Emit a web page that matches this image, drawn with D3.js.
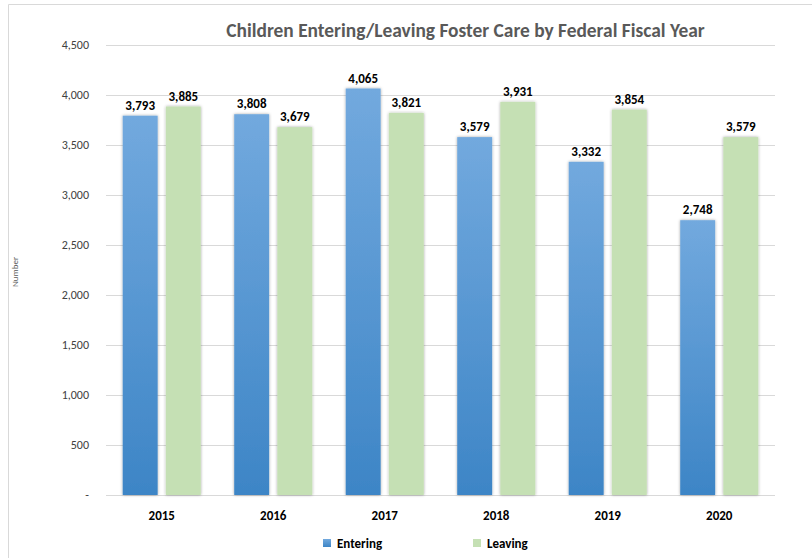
<!DOCTYPE html>
<html><head><meta charset="utf-8">
<script src="https://cdn.jsdelivr.net/npm/d3@7"></script>
<style>
body{margin:0;background:#fff;}
text{font-family:Carlito,"Lato","Open Sans",sans-serif;}
</style></head>
<body><svg id="c" width="812" height="558"></svg>
<script>
const years = ["2015","2016","2017","2018","2019","2020"];
const seriesNames = ["Entering","Leaving"];
const entering = [3793,3808,4065,3579,3332,2748];
const leaving = [3885,3679,3821,3931,3854,3579];
const yTicks = [0,500,1000,1500,2000,2500,3000,3500,4000,4500];

(function(){
const FF = "Carlito,Lato,'Open Sans',sans-serif";
const svg = d3.select("#c");
const defs = svg.append("defs");
const g1 = defs.append("linearGradient").attr("id","gEnt").attr("x1",0).attr("y1",0).attr("x2",0).attr("y2",1);
g1.append("stop").attr("offset","0%").attr("stop-color","#72a9de");
g1.append("stop").attr("offset","100%").attr("stop-color","#3d85c6");
const f = defs.append("filter").attr("id","sh").attr("x","-30%").attr("y","-10%").attr("width","160%").attr("height","120%");
f.append("feDropShadow").attr("dx",0).attr("dy",0).attr("stdDeviation",1.5).attr("flood-color","#000").attr("flood-opacity",0.35);

svg.append("line").attr("x1",8.5).attr("x2",812).attr("y1",4.5).attr("y2",4.5).attr("stroke","#d9d9d9");
svg.append("line").attr("x1",8.5).attr("x2",8.5).attr("y1",4.5).attr("y2",558).attr("stroke","#d9d9d9");

const pL=106, pR=775, pT=45, pB=495;
const y = d3.scaleLinear().domain([0,4500]).range([pB,pT]);
const x0 = d3.scaleBand().domain(years).range([pL,pR]).paddingInner(0.30).paddingOuter(0.15);
const x1 = d3.scaleBand().domain(seriesNames).range([0,x0.bandwidth()]).paddingInner(0.19);

const grid = svg.append("g").attr("transform",`translate(${pL},0)`)
  .call(d3.axisLeft(y).tickValues(yTicks).tickSize(-(pR-pL)).tickFormat(""));
grid.select(".domain").remove();
grid.selectAll("line").attr("stroke","#d9d9d9");

const ya = svg.append("g").attr("transform",`translate(${pL-14},0)`)
  .call(d3.axisLeft(y).tickValues(yTicks).tickSize(0).tickFormat(d=> d===0?"-":d3.format(",")(d)));
ya.select(".domain").remove();
ya.selectAll("text").attr("font-size",12).attr("fill","#404040").style("font-family",FF);

const data = years.map((yr,i)=>({yr, vals:[{k:"Entering",v:entering[i]},{k:"Leaving",v:leaving[i]}]}));
const grp = svg.append("g").selectAll("g").data(data).join("g").attr("transform",d=>`translate(${x0(d.yr)},0)`);
grp.selectAll("rect").data(d=>d.vals).join("rect")
  .attr("x",d=>x1(d.k)).attr("width",x1.bandwidth())
  .attr("y",d=>y(d.v)).attr("height",d=>y(0)-y(d.v))
  .attr("fill",d=>d.k==="Entering"?"url(#gEnt)":"#c5e0b4")
  .attr("filter","url(#sh)");
grp.selectAll("text.v").data(d=>d.vals).join("text").attr("class","v")
  .attr("x",d=>x1(d.k)+x1.bandwidth()/2).attr("y",d=>y(d.v)-6)
  .attr("text-anchor","middle").attr("font-size",13).attr("font-weight","bold").attr("fill","#000")
  .text(d=>d3.format(",")(d.v));

const xa = svg.append("g").attr("transform",`translate(0,${pB})`)
  .call(d3.axisBottom(x0).tickSize(0).tickPadding(16));
xa.select(".domain").remove();
xa.selectAll("text").attr("font-size",13).attr("font-weight","bold").attr("fill","#000").style("font-family",FF);

svg.append("text").attr("x",465.5).attr("y",37).attr("text-anchor","middle")
  .attr("font-size",19.4).attr("font-weight","bold").attr("fill","#595959")
  .text("Children Entering/Leaving Foster Care by Federal Fiscal Year");

svg.append("text").attr("transform","translate(18,272) rotate(-90)").attr("text-anchor","middle")
  .attr("font-size",9).attr("fill","#595959").text("Number");

const legX = [323,473];
const leg = svg.append("g").selectAll("g").data(seriesNames).join("g").attr("transform",(d,i)=>`translate(${legX[i]},539)`);
leg.append("rect").attr("width",8).attr("height",8).attr("fill",(d,i)=>i===0?"url(#gEnt)":"#c5e0b4");
leg.append("text").attr("x",14).attr("y",9).attr("font-size",13).attr("font-weight","bold").attr("fill","#000").text(d=>d);
})();
</script></body></html>
